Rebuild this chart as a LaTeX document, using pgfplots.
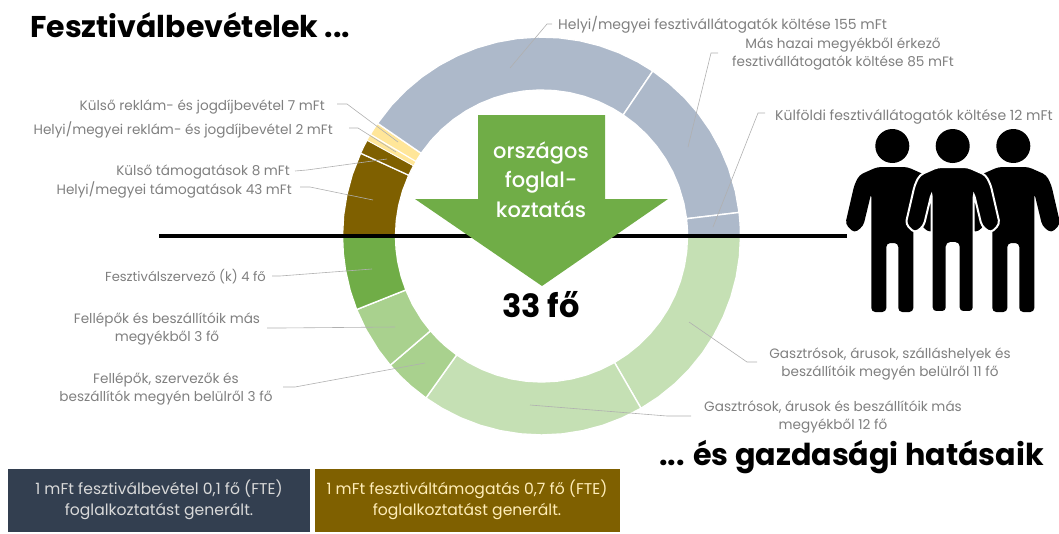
\documentclass[border=0pt]{standalone}
\usepackage{fontspec}
\usepackage{pgfplots}
\pgfplotsset{compat=1.18}
\usepgfplotslibrary{polar}
\setmainfont{Poppins}
\newfontfamily\medf{Poppins Medium}
\definecolor{slate}{HTML}{ADB9CA}
\definecolor{gold}{HTML}{FFE699}
\definecolor{brownc}{HTML}{7F6000}
\definecolor{g1}{HTML}{70AD47}
\definecolor{g2}{HTML}{A9D18E}
\definecolor{g3}{HTML}{C5E0B4}
\definecolor{navy}{HTML}{333F50}
\definecolor{lab}{HTML}{7F7F7F}
\definecolor{lead}{HTML}{B0B0B0}
\newcommand\lblf{\fontsize{13.6}{18}\selectfont}
\newcommand\lblw{\fontsize{14}{18}\selectfont}
\newcommand\boxf{\fontsize{15.6}{21}\selectfont}
\newcommand\person[1]{%
  ({#1-15},167) -- ({#1-33},175) -- ({#1-38},185) -- ({#1-47},224) -- ({#1-38},233) -- ({#1-29},226) -- ({#1-21},193) -- ({#1-21},312) -- ({#1-6},312) -- ({#1-6},243) -- ({#1+6},243) -- ({#1+6},312) -- ({#1+21},312) -- ({#1+21},193) -- ({#1+29},226) -- ({#1+38},233) -- ({#1+47},224) -- ({#1+38},185) -- ({#1+33},175) -- ({#1+15},167) -- cycle}
\begin{document}
\begin{tikzpicture}
\useasboundingbox (0pt,0pt) rectangle (1059pt,533pt);
% ---------- ring: angle, radius around the ring's centre
\begin{axis}[at={(0pt,0pt)},anchor=south west,x=1pt,y=1pt,xmin=-541.5,xmax=517.5,ymin=-297,ymax=236,
  hide axis,clip=false]
\addplot[data cs=polar,fill=brownc,draw=white,line width=1.4pt] coordinates {(180,199)(174,199)(168,199)(162,199)(155.4,199)(155.4,146)(162,146)(168,146)(174,146)(180,146)} -- cycle;
\addplot[data cs=polar,fill=brownc,draw=white,line width=1.2pt] coordinates {(155.4,199)(153,199)(151.2,199)(151.2,146)(153,146)(155.4,146)} -- cycle;
\addplot[data cs=polar,fill=gold,draw=white,line width=.6pt] coordinates {(151.2,199)(149.3,199)(149.3,146)(151.2,146)} -- cycle;
\addplot[data cs=polar,fill=gold,draw=white,line width=1.2pt] coordinates {(149.3,199)(147.5,199)(145.5,199)(145.5,146)(147.5,146)(149.3,146)} -- cycle;
\addplot[data cs=polar,fill=slate,draw=white,line width=1.4pt] coordinates {(145.5,199)(139,199)(133,199)(127,199)(121,199)(115,199)(109,199)(103,199)(97,199)(91,199)(85,199)(79,199)(73,199)(67,199)(61,199)(56,199)(56,146)(61,146)(67,146)(73,146)(79,146)(85,146)(91,146)(97,146)(103,146)(109,146)(115,146)(121,146)(127,146)(133,146)(139,146)(145.5,146)} -- cycle;
\addplot[data cs=polar,fill=slate,draw=white,line width=1.4pt] coordinates {(56,199)(50,199)(44,199)(38,199)(32,199)(26,199)(20,199)(13,199)(6.8,199)(6.8,146)(13,146)(20,146)(26,146)(32,146)(38,146)(44,146)(50,146)(56,146)} -- cycle;
\addplot[data cs=polar,fill=slate,draw=white,line width=1.4pt] coordinates {(6.8,199)(3.5,199)(0,199)(0,146)(3.5,146)(6.8,146)} -- cycle;
\addplot[data cs=polar,fill=g3,draw=white,line width=1.4pt] coordinates {(0,199)(-6,199)(-12,199)(-18,199)(-24,199)(-30,199)(-36,199)(-42,199)(-48,199)(-54,199)(-60,199)(-60,146)(-54,146)(-48,146)(-42,146)(-36,146)(-30,146)(-24,146)(-18,146)(-12,146)(-6,146)(0,146)} -- cycle;
\addplot[data cs=polar,fill=g3,draw=white,line width=1.4pt] coordinates {(-60,199)(-66,199)(-72,199)(-78,199)(-84,199)(-90,199)(-96,199)(-102,199)(-108,199)(-114,199)(-120,199)(-125.5,199)(-125.5,146)(-120,146)(-114,146)(-108,146)(-102,146)(-96,146)(-90,146)(-84,146)(-78,146)(-72,146)(-66,146)(-60,146)} -- cycle;
\addplot[data cs=polar,fill=g2,draw=white,line width=1.4pt] coordinates {(-125.5,199)(-131,199)(-135,199)(-139.5,199)(-139.5,146)(-135,146)(-131,146)(-125.5,146)} -- cycle;
\addplot[data cs=polar,fill=g2,draw=white,line width=1.4pt] coordinates {(-139.5,199)(-145,199)(-152,199)(-158.3,199)(-158.3,146)(-152,146)(-145,146)(-139.5,146)} -- cycle;
\addplot[data cs=polar,fill=g1,draw=white,line width=1.4pt] coordinates {(-158.3,199)(-164,199)(-170,199)(-175,199)(-180,199)(-180,146)(-175,146)(-170,146)(-164,146)(-158.3,146)} -- cycle;
\end{axis}
% ---------- overlay in picture pixels
\begin{axis}[at={(0pt,0pt)},anchor=south west,x=1pt,y=1pt,xmin=0,xmax=1059,ymin=0,ymax=533,y dir=reverse,
  hide axis,clip=false]
% horizontal line
\addplot[black,line width=3.2pt] coordinates {(159,236)(847,236)};
% arrow
\addplot[fill=g1,draw=none] coordinates {(478,115)(605,115)(605,199)(668,199)(542,286)(415,199)(478,199)} -- cycle;
% leaders
\addplot[lead,line width=.6pt] coordinates {(337,104)(347,104)(398,142)};
\addplot[lead,line width=.6pt] coordinates {(349,128)(358,128)(396,152)};
\addplot[lead,line width=.6pt] coordinates {(295,171)(307,170)(387,159)};
\addplot[lead,line width=.6pt] coordinates {(300,187)(310,187)(373,200)};
\addplot[lead,line width=.6pt] coordinates {(272,276)(280,276)(372,269)};
\addplot[lead,line width=.6pt] coordinates {(267,328)(280,328)(395,327)};
\addplot[lead,line width=.6pt] coordinates {(283,387)(295,387)(425,363)};
\addplot[lead,line width=.6pt] coordinates {(552,24)(547,24)(510,68)};
\addplot[lead,line width=.6pt] coordinates {(718,53)(711,53)(688,147)};
\addplot[lead,line width=.6pt] coordinates {(765,113)(758,113)(713,227)};
\addplot[lead,line width=.6pt] coordinates {(757,362)(747,362)(689,322)};
\addplot[lead,line width=.6pt] coordinates {(691,416)(667,416)(530,405)};
% boxes
\addplot[fill=navy,draw=none] coordinates {(8,469)(310,469)(310,532)(8,532)} -- cycle;
\addplot[fill=brownc,draw=none] coordinates {(315,469)(620,469)(620,532)(315,532)} -- cycle;
% people
\fill[black] (axis cs:892.3,146) circle[radius=17pt];
\fill[black] (axis cs:952.7,146) circle[radius=17pt];
\fill[black] (axis cs:1013.3,146) circle[radius=17pt];
\fill[black,rounded corners=4pt] \person{892.3};
\fill[black,rounded corners=4pt] \person{1013.3};
\draw[fill=black,rounded corners=4pt,draw=white,line width=2pt] \person{952.7};
% titles
\node[anchor=west,inner sep=0pt,font=\fontsize{30}{30}\selectfont\bfseries] at (axis cs:30,25) {Fesztiválbevételek ...};
\node[anchor=east,inner sep=0pt,font=\fontsize{30.2}{30}\selectfont\bfseries] at (axis cs:1044,457) {... és gazdasági hatásaik};
% arrow text and total
\node[text=white,font=\fontsize{21}{30}\selectfont\medf,align=center] at (axis cs:541,180) {országos\\[-1pt]foglal-\\koztatás};
\node[font=\fontsize{32}{36}\selectfont\bfseries] at (axis cs:541,305) {33 fő};
% labels
\node[text=lab,inner sep=0pt,font=\lblf,anchor=east] at (axis cs:325,107) {Külső reklám- és jogdíjbevétel 7 mFt};
\node[text=lab,inner sep=0pt,font=\lblf,anchor=east] at (axis cs:333,130) {Helyi/megyei reklám- és jogdíjbevétel 2 mFt};
\node[text=lab,inner sep=0pt,font=\lblf,anchor=east] at (axis cs:290,172) {Külső támogatások 8 mFt};
\node[text=lab,inner sep=0pt,font=\lblf,anchor=east] at (axis cs:292,190) {Helyi/megyei támogatások 43 mFt};
\node[text=lab,inner sep=0pt,font=\fontsize{13.1}{18}\selectfont,anchor=east] at (axis cs:266,277) {Fesztiválszervező (k) 4 fő};
\node[text=lab,font=\lblf,align=center] at (axis cs:167,329) {Fellépők és beszállítóik más\\megyékből 3 fő};
\node[text=lab,font=\lblf,align=center] at (axis cs:166,389) {Fellépők, szervezők és\\beszállítók megyén belülről 3 fő};
\node[text=lab,inner sep=0pt,font=\lblw,anchor=west] at (axis cs:558,25) {Helyi/megyei fesztivállátogatók költése 155 mFt};
\node[text=lab,font=\lblf,align=center] at (axis cs:843,54) {Más hazai megyékből érkező\\fesztivállátogatók költése 85 mFt};
\node[text=lab,inner sep=0pt,font=\lblw,anchor=east] at (axis cs:1053,117) {Külföldi fesztivállátogatók költése 12 mFt};
\node[text=lab,font=\lblf,align=center] at (axis cs:890,364) {Gasztrósok, árusok, szálláshelyek és\\beszállítóik megyén belülről 11 fő};
\node[text=lab,font=\lblf,align=center] at (axis cs:833,417) {Gasztrósok, árusok és beszállítóik más\\megyékből 12 fő};
% box text
\node[text=white!85!black,font=\boxf,align=center] at (axis cs:159,500) {1 mFt fesztiválbevétel 0,1 fő (FTE)\\foglalkoztatást generált.};
\node[text=gold!70!white,font=\boxf,align=center] at (axis cs:467,500) {1 mFt fesztiváltámogatás 0,7 fő (FTE)\\foglalkoztatást generált.};
\end{axis}
\end{tikzpicture}
\end{document}
